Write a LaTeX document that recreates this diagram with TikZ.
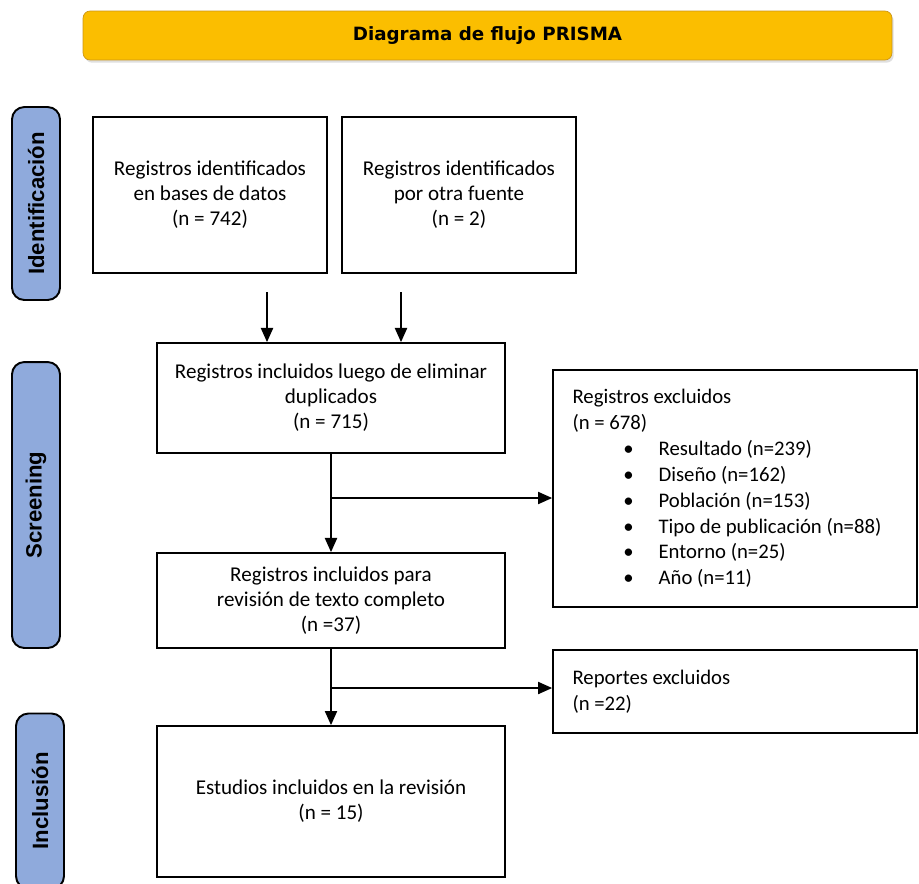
\documentclass[tikz,border=0pt]{standalone}
\usepackage{fontspec}
\setmainfont{Carlito}
\setsansfont{Liberation Sans}
\newfontfamily\titlefont{DejaVu Sans}
\usepackage{tikz}
\usetikzlibrary{arrows.meta,positioning,calc,shadows}
\usepackage{xcolor}
\definecolor{prismaorange}{RGB}{251,190,0}
\definecolor{prismaedge}{RGB}{205,150,20}
\definecolor{phaseblue}{RGB}{143,170,220}

\begin{document}
\begin{tikzpicture}[x=0.02cm, y=-0.02cm,
      header/.style={draw=prismaedge, fill=prismaorange, rounded corners=4pt, minimum width=16.18cm, minimum height=0.98cm, font=\titlefont\bfseries\fontsize{10.4}{12}\selectfont, drop shadow={shadow xshift=1pt, shadow yshift=-1.5pt, opacity=0.25}},
      phase/.style={draw, line width=1.1pt, fill=phaseblue, rounded corners=7pt, rotate=90, minimum height=0.96cm, font=\sffamily\bfseries\fontsize{12.6}{14}\selectfont},
      box/.style={draw, line width=1.1pt, align=center, font=\fontsize{12}{14.2}\selectfont, inner sep=4pt},
      exclbox/.style={draw, line width=1.1pt, align=left, font=\fontsize{11.8}{14.7}\selectfont, minimum width=7.28cm, text width=6.5cm, inner xsep=9.5pt},
      arrowstyle/.style={-{Triangle[width=7pt,length=8pt]}, line width=0.6pt}
    ]
    \useasboundingbox (0,0) rectangle (919,883);
    \node[header] (title) at (487.5,35.5) {Diagrama de flujo PRISMA};

    \node[phase, minimum width=3.86cm] (ident) at (36,203.5) {Identificación};
    \node[phase, minimum width=5.72cm] (screen) at (36,505) {Screening};
    \node[phase, minimum width=3.5cm] (incl) at (40,801) {Inclusión};

    \node[box, minimum width=4.68cm, minimum height=3.12cm] (recdb) at (210,195) {Registros identificados\\en bases de datos\\(n = 742)};
    \node[box, minimum width=4.68cm, minimum height=3.12cm] (recother) at (459,195) {Registros identificados\\por otra fuente\\(n = 2)};
    \node[box, minimum width=6.96cm, minimum height=2.2cm] (dedup) at (331,398) {Registros incluidos luego de eliminar\\duplicados\\(n = 715)};
    \node[box, minimum width=6.96cm, minimum height=1.9cm] (fulltext) at (331,600.5) {Registros incluidos para\\revisión de texto completo\\(n =37)};
    \node[box, minimum width=6.96cm, minimum height=3.02cm] (studies) at (331,801.5) {Estudios incluidos en la revisión\\(n = 15)};

    \node[exclbox, minimum height=4.74cm] (excl) at (735,488.5) {\spaceskip=0pt\xspaceskip=0pt Registros excluidos\\(n = 678)\\
      \hspace*{29pt}\makebox[20pt][l]{\textbullet}Resultado (n=239)\\
      \hspace*{29pt}\makebox[20pt][l]{\textbullet}Diseño (n=162)\\
      \hspace*{29pt}\makebox[20pt][l]{\textbullet}Población (n=153)\\
      \hspace*{29pt}\makebox[20pt][l]{\textbullet}Tipo de publicación (n=88)\\
      \hspace*{29pt}\makebox[20pt][l]{\textbullet}Entorno (n=25)\\
      \hspace*{29pt}\makebox[20pt][l]{\textbullet}Año (n=11)\\[2pt]};
    \node[exclbox, minimum height=1.66cm] (exclrep) at (735,691.5) {\spaceskip=0pt\xspaceskip=0pt Reportes excluidos\\(n =22)\\[6pt]};

    \coordinate (fromdb) at (267,292);
    \coordinate (fromother) at (401,292);
    \coordinate (split1) at (331,498);
    \coordinate (split2) at (331,688);

    \draw[arrowstyle] (fromdb) -- (fromdb |- dedup.north);
    \draw[arrowstyle] (fromother) -- (fromother |- dedup.north);
    \draw[arrowstyle] (dedup) -- (fulltext);
    \draw[arrowstyle] (split1) -- (split1 -| excl.west);
    \draw[arrowstyle] (fulltext) -- (studies);
    \draw[arrowstyle] (split2) -- (split2 -| exclrep.west);
  \end{tikzpicture}
\end{document}
